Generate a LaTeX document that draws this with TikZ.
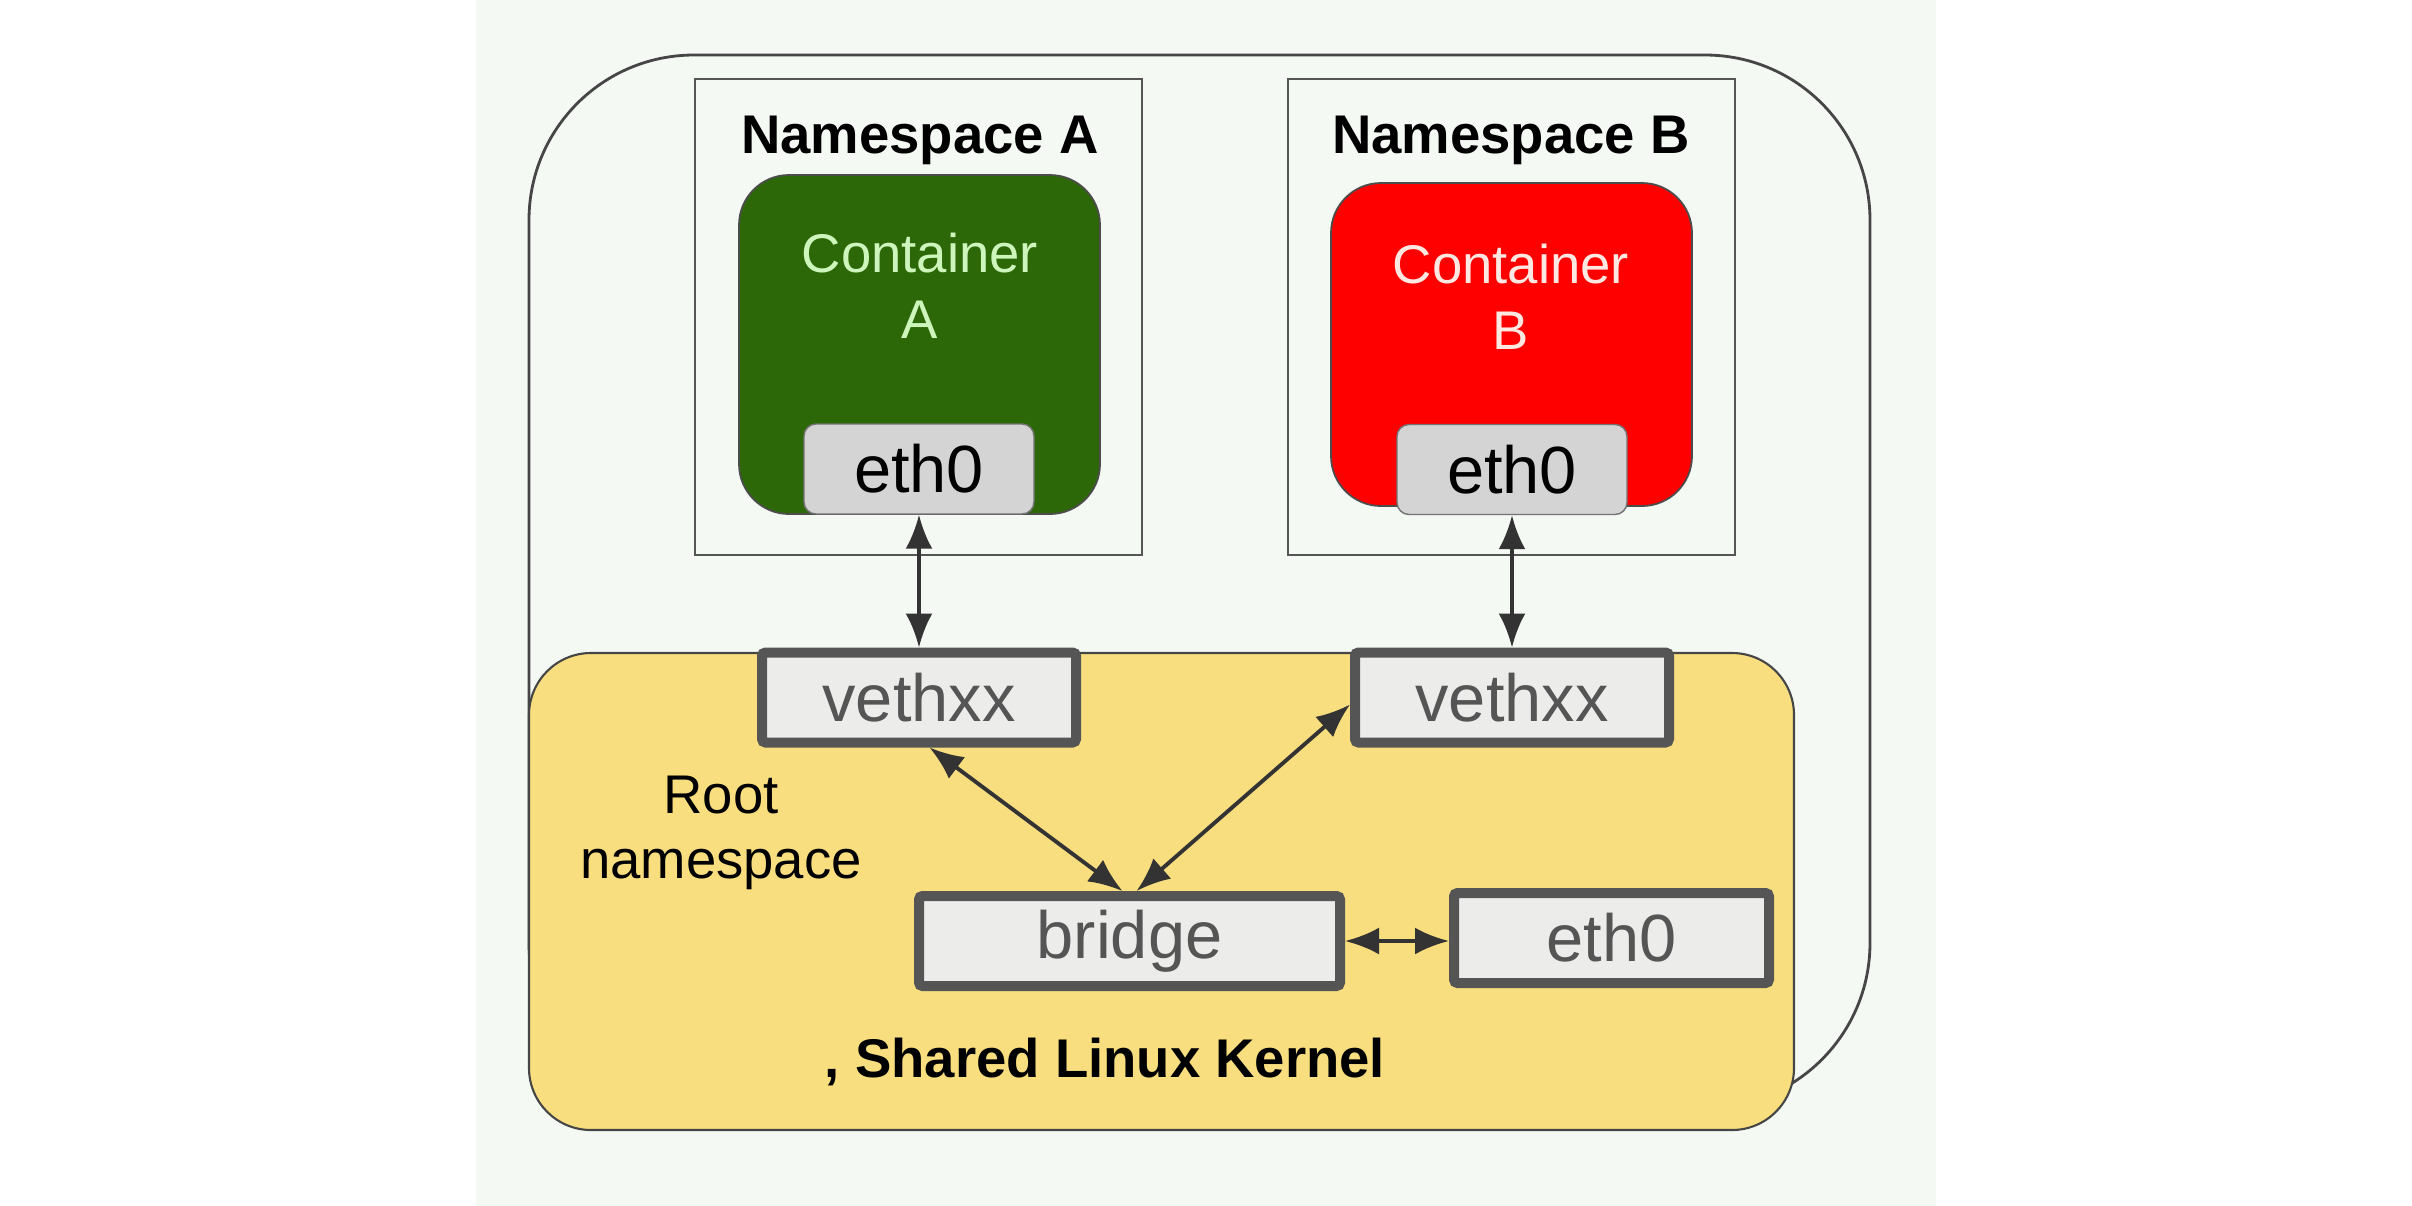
\documentclass[tikz,border=0pt]{standalone}
\usepackage{fontspec}
\setmainfont{Liberation Sans}
\usetikzlibrary{arrows.meta,positioning}
\definecolor{pnl}{RGB}{245,249,244}
\definecolor{edge}{RGB}{70,70,70}
\definecolor{nsc}{RGB}{85,85,85}
\definecolor{gc}{RGB}{45,104,8}
\definecolor{gt}{RGB}{206,245,188}
\definecolor{rcn}{RGB}{254,0,0}
\definecolor{rt}{RGB}{255,232,226}
\definecolor{nicc}{RGB}{212,212,212}
\definecolor{yc}{RGB}{248,222,126}
\definecolor{devc}{RGB}{236,237,234}
\definecolor{devl}{RGB}{85,85,85}
\definecolor{arrc}{RGB}{51,51,51}
\tikzset{ns/.style={draw=nsc,line width=.8pt,minimum width=4.47cm,minimum height=4.76cm},
 ctr/.style={draw=black!70,line width=.5pt,rounded corners=.5cm,minimum width=3.61cm},
 nic/.style={draw=black!55,fill=nicc,rounded corners=.12cm,minimum width=2.3cm,minimum height=.9cm,
  font=\fontsize{19}{22}\selectfont,inner sep=0pt},
 dev/.style={draw=devl,fill=devc,line width=.1cm,rounded corners=1pt,minimum height=.9cm,
  text=devl,font=\fontsize{19}{22}\selectfont,inner sep=0pt},
 lbl/.style={font=\fontsize{15.5}{18.7}\selectfont,align=center},
 ttl/.style={lbl,font=\fontsize{15.5}{18.7}\selectfont\bfseries},
 arr/.style={{Latex[length=3.4mm,width=2.7mm]}-{Latex[length=3.4mm,width=2.7mm]},line width=1.1pt,draw=arrc}}
\begin{document}
\begin{tikzpicture}
\useasboundingbox (0,0) rectangle (24.12,-12.06);
\fill[white] (0,0) rectangle (24.12,-12.06);
\fill[pnl] (4.76,0) rectangle (19.36,-12.06);
% host and namespaces
\draw[edge,line width=.8pt,rounded corners=1.65cm] (5.29,-.55) rectangle (18.70,-11.08);
\node[ns] (nsA) at (9.185,-3.17) {};
\node[ns] (nsB) at (15.115,-3.17) {};
\node[ttl] (ttlA) at (9.2,-1.40) {Namespace A};
\node[ttl] (ttlB) at (15.11,-1.40) {Namespace B};
\node[ctr,fill=gc,minimum height=3.39cm] (ctrA) at (9.195,-3.445) {};
\node[ctr,fill=rcn,minimum height=3.23cm] (ctrB) at (15.115,-3.445) {};
\node[lbl,text=gt] (txtA) at (9.2,-2.86) {Container\\A};
\node[lbl,text=rt] (txtB) at (15.11,-2.97) {Container\\B};
\node[nic] (nicA) at (9.19,-4.69) {eth0};
\node[nic] (nicB) at (15.12,-4.695) {eth0};
% root namespace
\draw[edge,line width=.6pt,fill=yc,rounded corners=.62cm] (5.29,-6.53) rectangle (17.94,-11.30);
\node[dev,minimum width=3.14cm] (vethA) at (9.19,-6.975) {vethxx};
\node[dev,minimum width=3.14cm] (vethB) at (15.12,-6.975) {vethxx};
\node[dev,minimum width=4.21cm] (bridge) at (11.295,-9.41) {bridge};
\node[dev,minimum width=3.15cm] (ethR) at (16.115,-9.38) {eth0};
\node[lbl] (root) at (7.21,-8.33) {Root\\namespace};
\node[ttl] (kern) at (11.05,-10.62) {, Shared Linux Kernel};
\draw[arr] (nicA.south) -- (nicA.south |- vethA.north);
\draw[arr] (nicB.south) -- (nicB.south |- vethB.north);
\draw[arr] ([xshift=3pt]vethA.south) -- ([xshift=-2pt]bridge.north);
\draw[arr] ([yshift=-2pt]vethB.west) -- ([xshift=2pt]bridge.north);
\draw[arr] (bridge.east) -- (bridge.east -| ethR.west);
\end{tikzpicture}
\end{document}
